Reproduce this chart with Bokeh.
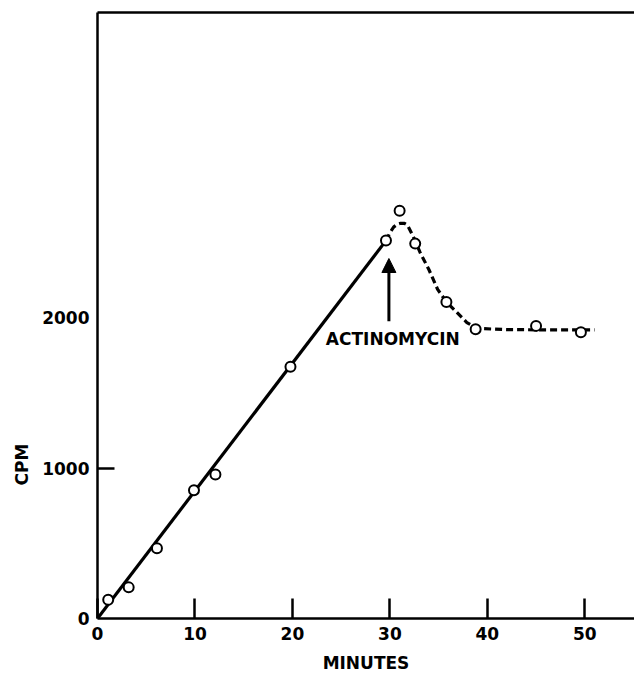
from bokeh.plotting import figure
from bokeh.models import Range1d, FixedTicker, LinearAxis, Arrow, NormalHead, Label, Title
from bokeh.embed import file_html
from bokeh.resources import INLINE

# measured points
minutes = [1.1, 3.2, 6.1, 9.9, 12.1, 19.8, 29.6, 31.0, 32.6, 35.8, 38.8, 45.0, 49.6]
cpm = [124, 207, 467, 853, 957, 1674, 2513, 2712, 2493, 2105, 1924, 1946, 1904]

# solid fitted line (before actinomycin)
fit_x = [0.0, 29.6]
fit_y = [0, 2513]

# dashed curve (after actinomycin)
curve_x = [29.6, 30.0, 30.4, 30.8, 31.1, 31.5, 31.8, 32.4, 33.1, 34.0, 34.9, 35.8, 36.9, 37.9, 39.0, 42.0, 45.0, 48.0, 51.0]
curve_y = [2513, 2565, 2604, 2622, 2628, 2627, 2616, 2540, 2434, 2321, 2189, 2105, 2034, 1968, 1929, 1921, 1920, 1919, 1919]

# annotation
arrow_x = 29.9
arrow_tail = 1977
arrow_head = 2394
note_text = "ACTINOMYCIN"
note_x = 30.3
note_y = 1858

x_ticks = [0, 10, 20, 30, 40, 50]
y_ticks = [0, 1000, 2000]
y_tick_marks = [1000]

FONT = "DejaVu Sans"

p = figure(width=634, height=675, output_backend="svg", toolbar_location=None,
           x_range=Range1d(0, 55.1), y_range=Range1d(0, 4030),
           min_border_left=97, min_border_right=0, min_border_top=12, min_border_bottom=54)
p.outline_line_color = None
p.grid.visible = False
p.background_fill_color = "white"

xa = p.xaxis[0]
xa.ticker = FixedTicker(ticks=x_ticks)
xa.major_tick_in = 20
xa.major_tick_out = 0
xa.minor_tick_in = 0
xa.minor_tick_out = 0
xa.axis_line_width = 2.5
xa.major_tick_line_width = 2.5
xa.major_label_standoff = 8
xa.major_label_text_font = FONT
xa.major_label_text_font_style = "bold"
xa.major_label_text_font_size = "17px"
xa.major_label_text_color = "black"
xa.axis_label = "MINUTES"
xa.axis_label_standoff = 10
xa.axis_label_text_font = FONT
xa.axis_label_text_font_style = "bold"
xa.axis_label_text_font_size = "17px"
xa.axis_label_text_color = "black"

ya = p.yaxis[0]
ya.ticker = FixedTicker(ticks=y_ticks, minor_ticks=y_tick_marks)
ya.major_tick_in = 0
ya.major_tick_out = 0
ya.minor_tick_in = 17
ya.minor_tick_out = 0
ya.minor_tick_line_width = 2.5
ya.axis_line_width = 2.5
ya.major_label_standoff = 8
ya.major_label_text_font = FONT
ya.major_label_text_font_style = "bold"
ya.major_label_text_font_size = "17px"
ya.major_label_text_color = "black"

top = LinearAxis(ticker=FixedTicker(ticks=[]), axis_line_width=2.5,
                 major_tick_in=0, major_tick_out=0, minor_tick_in=0, minor_tick_out=0,
                 major_label_text_font_size="0px", major_label_standoff=0)
p.add_layout(top, "above")

# y-axis title, placed low (level with 1000) as in the original
p.add_layout(Title(text="CPM", align="left", offset=133, standoff=15,
                   text_font=FONT, text_font_style="bold", text_font_size="17px",
                   text_color="black"), "left")

p.line(fit_x, fit_y, line_color="black", line_width=3.2)
p.line(curve_x, curve_y, line_color="black", line_width=3.2, line_dash="7 4")
p.scatter(minutes, cpm, marker="circle", size=10, fill_color="white",
          line_color="black", line_width=2)

p.add_layout(Arrow(end=NormalHead(size=14, fill_color="black", line_color="black", line_width=1),
                   x_start=arrow_x, y_start=arrow_tail, x_end=arrow_x, y_end=arrow_head,
                   line_color="black", line_width=3))
p.add_layout(Label(x=note_x, y=note_y, text=note_text, text_align="center",
                   text_baseline="middle", text_font=FONT, text_font_style="bold",
                   text_font_size="17px", text_color="black"))

open("out.html", "w").write(file_html(p, INLINE))
